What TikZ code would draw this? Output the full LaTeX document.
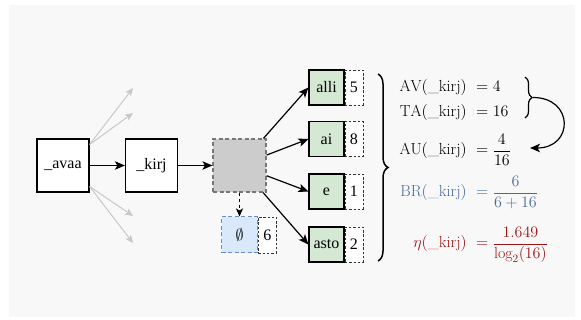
\RequirePackage{fix-cm}
\documentclass[tikz,border=0pt]{standalone}
\usepackage{amsmath}
\usepackage{fontspec}
\newfontfamily\tnr{Liberation Serif}
\usetikzlibrary{arrows.meta,decorations.pathreplacing,calc}
\definecolor{bgc}{HTML}{F8F8F8}
\definecolor{holefill}{HTML}{CCCCCC}
\definecolor{holedraw}{HTML}{777777}
\definecolor{blfill}{HTML}{DAE8FC}
\definecolor{bldraw}{HTML}{6C8EBF}
\definecolor{grfill}{HTML}{D5E8D4}
\definecolor{ghost}{HTML}{C8C8C8}
\definecolor{brblue}{HTML}{4A6A9E}
\definecolor{etared}{HTML}{9E1414}
\begin{document}
\begin{tikzpicture}[x=1pt,y=-1pt,
  lbl/.style={font=\fontsize{16}{19}\selectfont\tnr},
  mtxt/.style={font=\fontsize{16}{19}\selectfont,inner sep=0pt},
  mainbox/.style={draw=black,line width=1.2pt,fill=white,minimum width=52pt,minimum height=53pt,inner sep=0pt,lbl},
  holebox/.style={draw=holedraw,fill=holefill,line width=1.2pt,dash pattern=on 4pt off 2.5pt,minimum width=53pt,minimum height=53pt,inner sep=0pt},
  emptybox/.style={draw=bldraw,fill=blfill,line width=1pt,dash pattern=on 4pt off 2.5pt,minimum width=36pt,minimum height=36pt,inner sep=0pt,font=\fontsize{16}{19}\selectfont},
  leafbox/.style={draw=black,fill=grfill,line width=1.2pt,minimum width=35pt,minimum height=35pt,inner sep=0pt,lbl},
  numbox/.style={draw=black!80,fill=white,line width=0.7pt,dash pattern=on 2.5pt off 1.8pt,minimum width=18pt,minimum height=35pt,inner sep=0pt,lbl,anchor=west},
  arr/.style={draw=black,line width=1.2pt,-{Stealth[length=10pt,width=8.5pt,inset=2.5pt]}},
  ghostarr/.style={draw=ghost,line width=1pt,-{Stealth[length=8pt,width=7pt,inset=2pt]}},
  dasharr/.style={draw=black,line width=1.2pt,dash pattern=on 3.5pt off 2.5pt,-{Stealth[length=8pt,width=7pt,inset=2pt]}},
  bigbrace/.style={draw=black,line width=1.5pt,decorate,decoration={brace,amplitude=10pt}},
  smallbrace/.style={draw=black,line width=1.2pt,decorate,decoration={brace,amplitude=7pt}}
]
\useasboundingbox (0,0) rectangle (581,320);
\fill[bgc] (9,5) rectangle (575,317);

% main chain
\node[mainbox] (avaa) at (63,165.5) {\_avaa};
\node[mainbox] (kirj) at (151.5,165.5) {\_kirj};
\node[holebox] (hole) at (239.5,165.5) {};
\node[emptybox] (empty) at (239.5,235) {$\emptyset$};
\node[numbox,minimum height=36pt] (n0) at (empty.east) {6};

% leaves
\node[leafbox] (alli) at (326.5,87.5) {alli};
\node[numbox] (n1) at (alli.east) {5};
\node[leafbox] (ai) at (326.5,139) {ai};
\node[numbox] (n2) at (ai.east) {8};
\node[leafbox] (e) at (326.5,191.5) {e};
\node[numbox] (n3) at (e.east) {1};
\node[leafbox] (asto) at (326.5,244.5) {asto};
\node[numbox] (n4) at (asto.east) {2};

% ghost arrows
\coordinate (g1) at (133,88);
\coordinate (g2) at (133,113);
\coordinate (g3) at (133,216);
\coordinate (g4) at (133,243);
\draw[ghostarr] ([yshift=21pt]avaa.east) -- (g1);
\draw[ghostarr] ([yshift=21pt]avaa.east) -- (g2);
\draw[ghostarr] ([yshift=-21pt]avaa.east) -- (g3);
\draw[ghostarr] ([yshift=-21pt]avaa.east) -- (g4);

% black arrows
\draw[arr] (avaa) -- (kirj);
\draw[arr] (kirj) -- (hole);
\draw[arr] (hole) -- (alli.west);
\draw[arr] (hole) -- (ai.west);
\draw[arr] (hole) -- (e.west);
\draw[arr] (hole) -- (asto.west);
\draw[dasharr] (hole.south) -- (empty.north);

% big brace
\coordinate (bt) at (378,74);
\coordinate (bb) at (378,261);
\draw[bigbrace] (bt) -- (bb);

% equations
\node[mtxt,anchor=base east] (l1) at (467,92) {$\mathrm{AV}(\text{\_kirj})$};
\node[mtxt,anchor=base west] (r1) at (476,92) {$=4$};
\node[mtxt,anchor=base east] (l2) at (467,117) {$\mathrm{TA}(\text{\_kirj})$};
\node[mtxt,anchor=base west] (r2) at (476,117) {$=16$};
\node[mtxt,anchor=base east] (l3) at (467,155) {$\mathrm{AU}(\text{\_kirj})$};
\node[mtxt,anchor=base west] (r3) at (476,155) {$=\dfrac{4}{16}$};
\node[mtxt,anchor=base east,text=brblue] (l4) at (467,197) {$\mathrm{BR}(\text{\_kirj})$};
\node[mtxt,anchor=base west,text=brblue] (r4) at (476,197) {$=\dfrac{6}{6+16}$};
\node[mtxt,anchor=base east,text=etared] (l5) at (467,248) {$\eta(\text{\_kirj})$};
\node[mtxt,anchor=base west,text=etared] (r5) at (476,248) {$=\dfrac{1.649}{\log_2(16)}$};

% small brace and curved arrow
\coordinate (st) at (525,77);
\coordinate (sb) at (525,118);
\draw[smallbrace] (st) -- (sb);
\coordinate (cs) at (533,97.5);
\coordinate (ce) at (530,148);
\draw[arr] (cs) .. controls (574,97.5) and (574,148) .. (ce);
\end{tikzpicture}
\end{document}
